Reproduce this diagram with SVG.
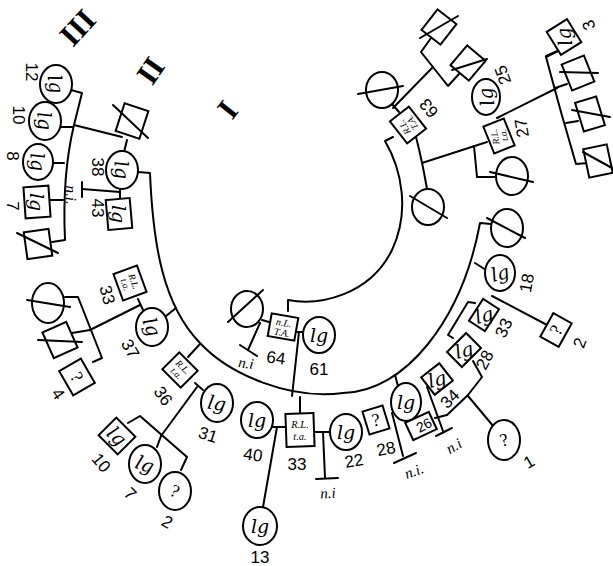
<svg xmlns="http://www.w3.org/2000/svg" width="613" height="566" viewBox="0 0 613 566">
<style>
.s{fill:none;stroke:#000;stroke-width:2;stroke-linejoin:round;stroke-linecap:round}
.n{fill:#fff;stroke:#000;stroke-width:2}
.x{stroke:#000;stroke-width:2;stroke-linecap:round}
text{font-family:"Liberation Sans",Arial,sans-serif;text-anchor:middle;dominant-baseline:central;fill:#000}
.num{font-size:17px}
.lg{font-family:"DejaVu Serif",serif;font-style:italic;font-size:19px}
.q{font-family:"Liberation Serif",serif;font-size:18px}
.rl{font-size:9.5px;font-family:"Liberation Serif",serif;font-style:italic}
.ni{font-family:"Liberation Serif",serif;font-style:italic;font-size:15px}
.rom{font-family:"Liberation Serif",serif;font-weight:bold;font-size:31px}
</style>
<rect width="613" height="566" fill="#fff"/>

<g id="connectors" class="s">
  <path d="M288,311 L288,300 C320,306 370,295 392,250 C410,212 402,170 385,141 L393,137"/>
  <path d="M138,172 L150,173 C153,245 163,305 200,343 C230,375 290,400 343,393 C405,392 462,320 480,223 L491,224"/>
  <path d="M262,320 L269,322"/>
  <path d="M260,323 L248,350"/>
  <path d="M240,345 L257,356"/>
  <path d="M297,332 L303,332"/>
  <path d="M299,332 L292,396"/>
  <path d="M392,104 L399,112"/>
  <path d="M416,137 Q422,160 427,189"/>
  <path d="M422,163 L487,142"/>
  <path d="M474,146 L477,177 L496,177"/>
  <path d="M497,118 L557,88"/>
  <path d="M546,56 L560,50"/>
  <path d="M560,50 L546,57 Q560,110 576,164 L588,163"/>
  <path d="M555,88 L567,84"/>
  <path d="M566,123 L578,121"/>
  <path d="M431,38 L421,52 L448,86 L459,74"/>
  <path d="M433,67 L393,108"/>
  <path d="M71,90 L82,93 L74,125 Q62,175 65,240 L52,242"/>
  <path d="M73,127 L61,127"/>
  <path d="M64,163 L53,163"/>
  <path d="M63,200 L50,200"/>
  <path d="M74,125 L122,137"/>
  <path d="M127,140 L124,152"/>
  <path d="M120,188 L120,199"/>
  <path d="M120,192 L82,189"/>
  <path d="M82,182 L82,197"/>
  <path d="M176,308 L166,316"/>
  <path d="M138,299 L143,310"/>
  <path d="M140,305 L90,330"/>
  <path d="M65,297 L78,297 L102,358 L93,362"/>
  <path d="M90,330 L72,333"/>
  <path d="M200,344 L188,357"/>
  <path d="M195,383 L203,390"/>
  <path d="M197,387 L161,436"/>
  <path d="M128,423 L140,416 L187,457 L181,470"/>
  <path d="M161,436 L157,447"/>
  <path d="M300,397 L300,413"/>
  <path d="M273,427 L286,427"/>
  <path d="M277,427 L263,507"/>
  <path d="M314,432 L330,432"/>
  <path d="M323,432 L325,478"/>
  <path d="M316,479 L338,478"/>
  <path d="M395,375 L398,386"/>
  <path d="M392,413 L403,456"/>
  <path d="M394,463 L416,453"/>
  <path d="M427,387 L443,431"/>
  <path d="M436,436 L452,428"/>
  <path d="M473,361 L482,377 L468,395 L447,415 L435,418"/>
  <path d="M468,396 L494,427"/>
  <path d="M475,303 L468,302 L448,335 L453,338"/>
  <path d="M475,263 L486,270"/>
  <path d="M492,296 L549,326"/>
</g>

<text class="rom" transform="translate(78,28) rotate(133)">III</text>
<text class="rom" transform="translate(151,71) rotate(125)">II</text>
<text class="rom" transform="translate(228,110) rotate(128)">I</text>

<g id="n63">
  <rect class="n" x="-12" y="-14" width="24" height="28" transform="translate(408,125) rotate(-38)"/>
  <text class="rl" transform="translate(408,125) rotate(-120)"><tspan x="0" y="-4">R.L.</tspan><tspan x="0" y="5">T.A.</tspan></text>
  <text class="num" transform="translate(429,108) rotate(-130)">63</text>
</g>
<g id="w63">
  <ellipse class="n" cx="382" cy="90" rx="16" ry="18"/>
  <line class="x" x1="358" y1="94" x2="403" y2="86"/>
</g>
<g id="cA">
  <rect class="n" x="-12" y="-13" width="24" height="26" transform="translate(439,27) rotate(38)"/>
  <line class="x" x1="420" y1="38" x2="458" y2="16"/>
</g>
<g id="cB">
  <rect class="n" x="-12" y="-13" width="24" height="26" transform="translate(468,63) rotate(40)"/>
  <line class="x" x1="452" y1="70" x2="487" y2="59"/>
</g>
<g id="n25">
  <ellipse class="n" cx="486" cy="97" rx="14" ry="18"/>
  <text class="lg" transform="translate(486,97) rotate(-100)">lg</text>
  <text class="num" transform="translate(503,75) rotate(-110)">25</text>
</g>
<g id="n27">
  <rect class="n" x="-11" y="-14.5" width="22" height="29" transform="translate(499,136) rotate(-22)"/>
  <text class="rl" transform="translate(499,136) rotate(-100)"><tspan x="0" y="-4">R.L.</tspan><tspan x="0" y="5">t.a.</tspan></text>
  <text class="num" transform="translate(522,128) rotate(-100)">27</text>
</g>
<g id="s27">
  <ellipse class="n" cx="512" cy="176" rx="16" ry="19"/>
  <line class="x" x1="490" y1="172" x2="533" y2="182"/>
</g>
<g id="s63">
  <ellipse class="n" cx="428" cy="207" rx="16" ry="18"/>
  <line class="x" x1="410" y1="196" x2="447" y2="218"/>
</g>
<g id="n3">
  <rect class="n" x="-12" y="-13.5" width="24" height="27" transform="translate(564,37) rotate(-32)"/>
  <text class="lg" transform="translate(564,37) rotate(-100)">lg</text>
  <text class="num" transform="translate(589,25) rotate(-110)">3</text>
</g>
<g id="r2">
  <rect class="n" x="-12" y="-14" width="24" height="28" transform="translate(578,73) rotate(-22)"/>
  <line class="x" x1="560" y1="72" x2="598" y2="73"/>
</g>
<g id="r3">
  <rect class="n" x="-11" y="-15" width="22" height="30" transform="translate(590,114) rotate(-17)"/>
  <line class="x" x1="572" y1="110" x2="610" y2="117"/>
</g>
<g id="r4">
  <rect class="n" x="-12" y="-14.5" width="24" height="29" transform="translate(598,161) rotate(-12)"/>
  <line class="x" x1="583" y1="152" x2="612" y2="168"/>
</g>

<g id="s1">
  <ellipse class="n" cx="507" cy="228" rx="16" ry="19"/>
  <line class="x" x1="487" y1="218" x2="525" y2="238"/>
</g>
<g id="n18">
  <ellipse class="n" cx="500" cy="273" rx="15" ry="18"/>
  <text class="lg" transform="translate(500,273) rotate(-15)">lg</text>
  <text class="num" transform="translate(527,283) rotate(-80)">18</text>
</g>
<g id="n33r">
  <rect class="n" x="-9.5" y="-13" width="19" height="26" transform="translate(484,315) rotate(33)"/>
  <text class="lg" transform="translate(484,315) rotate(-15)">lg</text>
  <text class="num" transform="translate(504,328) rotate(-65)">33</text>
</g>
<g id="n2r">
  <rect class="n" x="-10.5" y="-13.5" width="21" height="27" transform="translate(556,330) rotate(29)"/>
  <text class="q" transform="translate(556,330) rotate(-60)">?</text>
  <text class="num" transform="translate(580,343) rotate(-70)">2</text>
</g>
<g id="n28r">
  <rect class="n" x="-10.5" y="-13.5" width="21" height="27" transform="translate(464,350) rotate(45)"/>
  <text class="lg" transform="translate(464,350) rotate(-15)">lg</text>
  <text class="num" transform="translate(485,360) rotate(-62)">28</text>
</g>
<g id="n34">
  <rect class="n" x="-11" y="-11.5" width="22" height="23" transform="translate(437,379) rotate(52)"/>
  <text class="lg" transform="translate(437,379) rotate(-15)">lg</text>
  <text class="num" transform="translate(450,399) rotate(-45)">34</text>
  <text class="ni" transform="translate(454,446) rotate(-30)">n.i</text>
</g>
<g id="n26">
  <rect class="n" x="-13" y="-9.5" width="26" height="19" transform="translate(421,426) rotate(-25)"/>
  <text class="num" style="font-size:14px" transform="translate(424,425) rotate(-28)">26</text>
</g>
<g id="n26c">
  <ellipse class="n" cx="406" cy="402" rx="15" ry="19"/>
  <text class="lg" transform="translate(406,402)">lg</text>
  <text class="ni" transform="translate(414,471) rotate(-20)">n.i.</text>
</g>
<g id="n1">
  <ellipse class="n" cx="504" cy="440" rx="16" ry="20"/>
  <text class="q" transform="translate(504,440) rotate(-15)">?</text>
  <text class="num" transform="translate(529,462) rotate(-30)">1</text>
</g>
<g id="n28b">
  <rect class="n" x="-10.5" y="-12" width="21" height="24" transform="translate(376,420) rotate(-17)"/>
  <text class="q" transform="translate(376,420) rotate(-10)">?</text>
  <text class="num" transform="translate(386,449) rotate(-12)">28</text>
</g>
<g id="n22">
  <ellipse class="n" cx="346" cy="432" rx="16" ry="18"/>
  <text class="lg" transform="translate(346,432)">lg</text>
  <text class="num" transform="translate(354,461) rotate(-10)">22</text>
  <text class="ni" transform="translate(328,493) rotate(-3)">n.i</text>
</g>
<g id="n33b">
  <rect class="n" x="-14" y="-16.5" width="28" height="33" transform="translate(300,430) rotate(-2)"/>
  <text class="rl" style="font-size:10.5px" transform="translate(300,430)"><tspan x="0" y="-6">R.L.</tspan><tspan x="0" y="6">t.a.</tspan></text>
  <text class="num" transform="translate(297,464)">33</text>
</g>
<g id="n40">
  <ellipse class="n" cx="257" cy="420" rx="16" ry="18"/>
  <text class="lg" transform="translate(257,420)">lg</text>
  <text class="num" transform="translate(253,455) rotate(8)">40</text>
</g>
<g id="n13">
  <ellipse class="n" cx="260" cy="526" rx="17" ry="19"/>
  <text class="lg" transform="translate(260,526)">lg</text>
  <text class="num" transform="translate(260,557)">13</text>
</g>
<g id="n61">
  <ellipse class="n" cx="319" cy="335" rx="16" ry="18"/>
  <text class="lg" transform="translate(319,335)">lg</text>
  <text class="num" transform="translate(319,369)">61</text>
</g>
<g id="n64">
  <rect class="n" x="-13.5" y="-11.5" width="27" height="23" transform="translate(283,327) rotate(10)"/>
  <text class="rl" style="font-size:10px" transform="translate(283,327) rotate(10)"><tspan x="0" y="-5">n.L.</tspan><tspan x="0" y="5">T.A.</tspan></text>
  <text class="num" transform="translate(276,358) rotate(8)">64</text>
</g>
<g id="w64">
  <ellipse class="n" cx="247" cy="309" rx="16" ry="18"/>
  <line class="x" x1="228" y1="322" x2="263" y2="290"/>
  <text class="ni" transform="translate(246,363) rotate(8)">n.i</text>
</g>

<g id="n31">
  <ellipse class="n" cx="217" cy="403" rx="16" ry="19"/>
  <text class="lg" transform="translate(217,403) rotate(10)">lg</text>
  <text class="num" transform="translate(208,435) rotate(18)">31</text>
</g>
<g id="n36">
  <rect class="n" x="-12" y="-13" width="24" height="26" transform="translate(180,370) rotate(-45)"/>
  <text class="rl" transform="translate(180,370) rotate(45)"><tspan x="0" y="-4">R.L.</tspan><tspan x="0" y="5">t.a.</tspan></text>
  <text class="num" transform="translate(163,396) rotate(55)">36</text>
</g>
<g id="n10b">
  <rect class="n" x="-12.5" y="-13.5" width="25" height="27" transform="translate(117,436) rotate(-45)"/>
  <text class="lg" transform="translate(117,436) rotate(45)">lg</text>
  <text class="num" transform="translate(101,463) rotate(50)">10</text>
</g>
<g id="n7b">
  <ellipse class="n" cx="145" cy="464" rx="16" ry="19"/>
  <text class="lg" transform="translate(145,464) rotate(20)">lg</text>
  <text class="num" transform="translate(130,494) rotate(45)">7</text>
</g>
<g id="n2b">
  <ellipse class="n" cx="175" cy="491" rx="16" ry="19"/>
  <text class="q" transform="translate(175,491) rotate(25)">?</text>
  <text class="num" transform="translate(167,522) rotate(30)">2</text>
</g>
<g id="n37">
  <ellipse class="n" cx="152" cy="327" rx="16" ry="19"/>
  <text class="lg" transform="translate(152,327) rotate(70)">lg</text>
  <text class="num" transform="translate(130,349) rotate(60)">37</text>
</g>
<g id="n33l">
  <rect class="n" x="-12.5" y="-14" width="25" height="28" transform="translate(130,283) rotate(-20)"/>
  <text class="rl" transform="translate(130,283) rotate(70)"><tspan x="0" y="-4">R.L.</tspan><tspan x="0" y="5">t.a.</tspan></text>
  <text class="num" transform="translate(107,295) rotate(75)">33</text>
</g>
<g id="s37a">
  <ellipse class="n" cx="48" cy="303" rx="16" ry="20"/>
  <line class="x" x1="27" y1="300" x2="70" y2="307"/>
</g>
<g id="s37b">
  <rect class="n" x="-13" y="-14" width="26" height="28" transform="translate(60,340) rotate(-24)"/>
  <line class="x" x1="38" y1="340" x2="82" y2="342"/>
</g>
<g id="n4">
  <rect class="n" x="-12.5" y="-14" width="25" height="28" transform="translate(77,377) rotate(-30)"/>
  <text class="q" transform="translate(77,377) rotate(60)">?</text>
  <text class="num" transform="translate(58,394) rotate(55)">4</text>
</g>

<g id="n38">
  <ellipse class="n" cx="122" cy="170" rx="16" ry="19"/>
  <text class="lg" transform="translate(122,170) rotate(85)">lg</text>
  <text class="num" transform="translate(97,167) rotate(90)">38</text>
</g>
<g id="n43">
  <rect class="n" x="-12" y="-15" width="24" height="30" transform="translate(119,214) rotate(-5)"/>
  <text class="lg" transform="translate(119,214) rotate(90)">lg</text>
  <text class="num" transform="translate(97,208) rotate(90)">43</text>
  <text class="ni" transform="translate(71,195) rotate(90)">n.i.</text>
</g>
<g id="h38">
  <rect class="n" x="-12.5" y="-14.5" width="25" height="29" transform="translate(132,121) rotate(18)"/>
  <line class="x" x1="113" y1="105" x2="148" y2="138"/>
</g>
<g id="n12">
  <ellipse class="n" cx="56" cy="84" rx="16" ry="19"/>
  <text class="lg" transform="translate(56,84) rotate(80)">lg</text>
  <text class="num" transform="translate(31,72) rotate(90)">12</text>
</g>
<g id="n10t">
  <ellipse class="n" cx="45" cy="121" rx="16" ry="19"/>
  <text class="lg" transform="translate(45,121) rotate(85)">lg</text>
  <text class="num" transform="translate(18,115) rotate(90)">10</text>
</g>
<g id="n8">
  <ellipse class="n" cx="38" cy="162" rx="15" ry="18"/>
  <text class="lg" transform="translate(38,162) rotate(85)">lg</text>
  <text class="num" transform="translate(12,156) rotate(90)">8</text>
</g>
<g id="n7t">
  <rect class="n" x="-12.5" y="-15.5" width="25" height="31" transform="translate(37,202) rotate(-4)"/>
  <text class="lg" transform="translate(37,202) rotate(90)">lg</text>
  <text class="num" transform="translate(12,206) rotate(90)">7</text>
</g>
<g id="d7">
  <rect class="n" x="-12.5" y="-13.5" width="25" height="27" transform="translate(38,244) rotate(-8)"/>
  <line class="x" x1="17" y1="233" x2="58" y2="253"/>
</g>
</svg>
